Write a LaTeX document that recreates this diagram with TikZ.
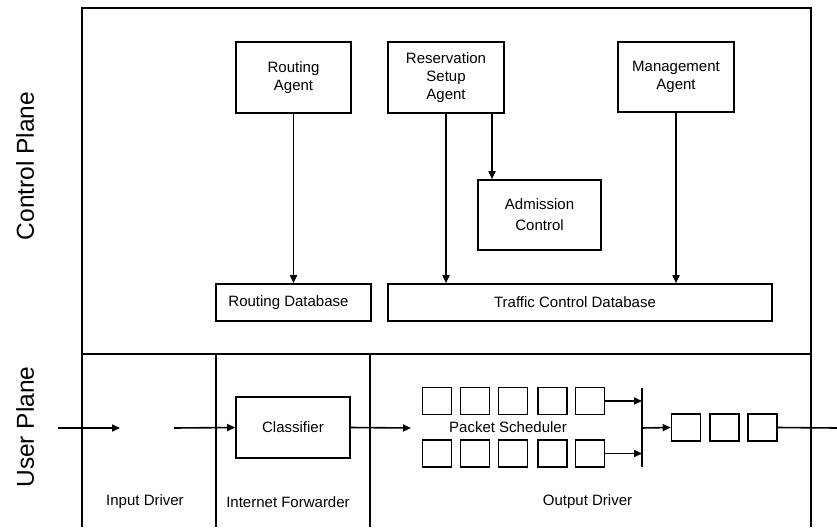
\documentclass[tikz,border=0pt]{standalone}
\usepackage{fontspec}
\setmainfont{Liberation Sans}
\usetikzlibrary{arrows.meta}
\begin{document}
\begin{tikzpicture}[x=1pt,y=-1pt,
  frame/.style={line width=1.8pt},
  box/.style={draw,line width=1.6pt,inner sep=0pt,align=center,font=\fontsize{15}{18}\selectfont},
  qbox/.style={draw,line width=1.6pt,inner sep=0pt,minimum width=29,minimum height=27},
  lbl/.style={font=\fontsize{15}{18}\selectfont,inner sep=0pt},
  side/.style={font=\fontsize{24.5}{28}\selectfont,rotate=90,inner sep=0pt},
  arr/.style={line width=1.6pt,-{Triangle[length=8pt,width=7pt]}},
  ln/.style={line width=1.6pt}]
\useasboundingbox (0,0) rectangle (837,527);
% frame
\draw[frame] (82,527) -- (82,8) -- (811,8) -- (811,527);
\draw[frame] (82,354) -- (811,354);
\draw[frame] (216,354) -- (216,527);
\draw[frame] (370,354) -- (370,527);
% side labels
\node[side] (cp) at (25,166) {Control Plane};
\node[side] (up) at (25,427) {User Plane};
% control plane boxes
\node[box,minimum width=115,minimum height=71] (ra) at (293.5,77.5) {Routing\\Agent};
\node[box,minimum width=116,minimum height=71] (rsa) at (446,77.5) {Reservation\\Setup\\Agent};
\node[box,minimum width=116,minimum height=70] (ma) at (676,77) {Management\\Agent};
\node[box,minimum width=123,minimum height=70,font=\fontsize{15}{21}\selectfont] (ac) at (539.5,215) {Admission\\Control};
\node[box,minimum width=155,minimum height=37] (rdb) at (293.5,302.5) {\hspace*{-10pt}Routing Database};
\node[box,minimum width=384,minimum height=37] (tcd) at (580,302.5) {\hspace*{-10pt}Traffic Control Database};
\draw[arr] (ra.south) -- (ra.south |- rdb.north);
\draw[arr] (rsa.south) -- (rsa.south |- tcd.north);
\draw[arr] ([xshift=46]rsa.south) -- ([xshift=46]rsa.south |- ac.north);
\draw[arr] (ma.south) -- (ma.south |- tcd.north);
% user plane
\node[box,minimum width=114,minimum height=61] (cl) at (293,427.5) {Classifier};
\coordinate (in0) at (58,428);
\coordinate (in1) at (120,428);
\coordinate (in2) at (174,428);
\coordinate (ps0) at (411,428);
\draw[arr] (in0) -- (in1);
\draw[arr] (in2) -- (cl.west);
\draw[arr] (cl.east) -- (ps0);
% queues
\node[qbox] (q1) at (437,401) {};
\node[qbox] (q2) at (475,401) {};
\node[qbox] (q3) at (513,401) {};
\node[qbox] (q4) at (552.5,401) {};
\node[qbox] (q5) at (590,401) {};
\node[qbox] (r1) at (437,453.5) {};
\node[qbox] (r2) at (475,453.5) {};
\node[qbox] (r3) at (513,453.5) {};
\node[qbox] (r4) at (552.5,453.5) {};
\node[qbox] (r5) at (590,453.5) {};
\node[lbl] (ps) at (508,427) {Packet Scheduler};
\coordinate (bt) at (642,388);
\coordinate (bb) at (642,467);
\coordinate (bm) at (642,428);
\draw[ln] (bt) -- (bb);
\draw[arr] (q5.east) -- (q5.east -| bt);
\draw[arr] (r5.east) -- (r5.east -| bt);
\node[qbox] (o1) at (686,427.5) {};
\node[qbox] (o2) at (724.5,427.5) {};
\node[qbox] (o3) at (762.5,427.5) {};
\coordinate (out) at (837,428);
\draw[arr] (bm) -- (o1.west);
\draw[ln] (o3.east) -- (out);
% section labels
\node[lbl] (id) at (145,502) {Input Driver};
\node[lbl] (if) at (288,502) {Internet Forwarder};
\node[lbl] (od) at (587.5,502) {Output Driver};
\end{tikzpicture}
\end{document}
